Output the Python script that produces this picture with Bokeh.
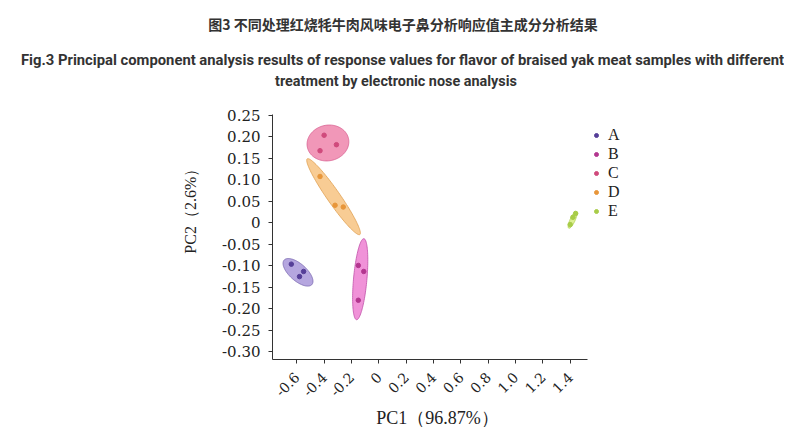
import numpy as np
from bokeh.plotting import figure
from bokeh.models import Legend, LegendItem, FixedTicker, Range1d, Label, LinearAxis
from bokeh.embed import file_html
from bokeh.resources import INLINE

# ---------------- data ----------------
groups = ["A", "B", "C", "D", "E"]

A_x = [-0.64, -0.55, -0.58]
A_y = [-0.096, -0.113, -0.125]
B_x = [-0.15, -0.11, -0.15]
B_y = [-0.099, -0.113, -0.180]
C_x = [-0.40, -0.31, -0.43]
C_y = [0.204, 0.182, 0.168]
D_x = [-0.43, -0.32, -0.26]
D_y = [0.108, 0.041, 0.037]
E_x = [1.44, 1.42, 1.40]
E_y = [0.022, 0.013, -0.004]

# confidence ellipses: centre and two conjugate semi-axis vectors (data units)
ell_cx = [-0.591, -0.136, -0.372, -0.331, 1.418]
ell_cy = [-0.115, -0.131, 0.186, 0.061, 0.007]
ell_ux = [0.1015, 0.0267, 0.1503, 0.1924, 0.0282]
ell_uy = [-0.0285, 0.0943, 0.0102, -0.0881, 0.0194]
ell_vx = [0.0411, 0.0488, -0.0271, 0.0391, 0.0166]
ell_vy = [0.0148, -0.0014, 0.0405, 0.0086, -0.0024]

# axis extents (data units)
x_axis_span = (-0.7776, 1.5267)
y_axis_span = (-0.3179, 0.2523)

x_ticks = [-0.6, -0.4, -0.2, 0.0, 0.2, 0.4, 0.6, 0.8, 1.0, 1.2, 1.4]
x_tick_labels = ["-0.6", "-0.4", "-0.2", "0", "0.2", "0.4", "0.6", "0.8", "1.0", "1.2", "1.4"]
y_ticks = [0.25, 0.20, 0.15, 0.10, 0.05, 0.0, -0.05, -0.10, -0.15, -0.20, -0.25, -0.30]
y_tick_labels = ["0.25", "0.20", "0.15", "0.10", "0.05", "0", "-0.05", "-0.10", "-0.15",
                 "-0.20", "-0.25", "-0.30"]

title_cn = "图3 不同处理红烧牦牛肉风味电子鼻分析响应值主成分分析结果"
title_en1 = "Fig.3 Principal component analysis results of response values for flavor of braised yak meat samples with different"
title_en2 = "treatment by electronic nose analysis"
x_label = "PC1（96.87%）"
y_label = "PC2（2.6%）"

# ---------------- styles ----------------
fill_colors = ["#ad9cdb", "#ee86d4", "#f08cb0", "#f7c788", "#d9ee88"]
edge_colors = ["#7a68b0", "#c050a8", "#d86090", "#e0a050", "#b0d050"]
dot_colors = ["#553e98", "#b3368f", "#d04a7c", "#e8963a", "#a8cc48"]

xs_all = [A_x, B_x, C_x, D_x, E_x]
ys_all = [A_y, B_y, C_y, D_y, E_y]

W, H = 784, 433
p = figure(width=W, height=H,
           x_range=Range1d(-2.7674, 2.9678), y_range=Range1d(-0.49011, 0.51757),
           output_backend="svg", toolbar_location=None,
           x_axis_location=None, y_axis_location=None, min_border=0)
p.grid.visible = False
p.outline_line_color = None
p.background_fill_color = "white"
p.border_fill_color = "white"

t = np.linspace(0, 2 * np.pi, 120)
ell_xs = [list(cx + ux * np.cos(t) + vx * np.sin(t))
          for cx, ux, vx in zip(ell_cx, ell_ux, ell_vx)]
ell_ys = [list(cy + uy * np.cos(t) + vy * np.sin(t))
          for cy, uy, vy in zip(ell_cy, ell_uy, ell_vy)]
p.patches(ell_xs, ell_ys, fill_color=fill_colors, fill_alpha=0.9,
          line_color=edge_colors, line_width=0.8)

items = []
for g, gx, gy, c in zip(groups, xs_all, ys_all, dot_colors):
    r = p.scatter(gx, gy, marker="circle", size=4.5, fill_color=c, line_color=c)
    items.append(LegendItem(label=g, renderers=[r]))

legend = Legend(items=items, location=(591, 213), padding=0, margin=0,
                glyph_width=10, glyph_height=16, label_height=16, spacing=1,
                label_standoff=7, background_fill_alpha=0, border_line_color=None,
                label_text_font="Liberation Serif", label_text_font_size="16px",
                label_text_color="#222222")
p.add_layout(legend)

# axes drawn at fixed positions inside the canvas
yaxis = LinearAxis(fixed_location=x_axis_span[0], bounds=y_axis_span,
                   ticker=FixedTicker(ticks=y_ticks),
                   major_label_overrides=dict(zip(y_ticks, y_tick_labels)))
xaxis = LinearAxis(fixed_location=y_axis_span[0], bounds=x_axis_span,
                   ticker=FixedTicker(ticks=x_ticks),
                   major_label_overrides=dict(zip(x_ticks, x_tick_labels)))
for ax in (xaxis, yaxis):
    ax.axis_line_color = "#333333"
    ax.major_tick_line_color = "#333333"
    ax.minor_tick_line_color = None
    ax.major_tick_in = 0
    ax.major_tick_out = 4
    ax.major_label_text_color = "#222222"
    ax.major_label_text_font = "DejaVu Serif"
xaxis.major_label_orientation = np.pi / 4
xaxis.major_label_text_font_size = "14px"
xaxis.major_label_standoff = 11
yaxis.major_label_text_font_size = "15px"
yaxis.major_label_standoff = 8
p.add_layout(yaxis, "left")
p.add_layout(xaxis, "below")

# axis titles
p.add_layout(Label(x=190, y=H - 206.7, x_units="screen", y_units="screen", text=y_label,
                   angle=np.pi / 2, text_align="center", text_baseline="middle",
                   text_font="Liberation Serif", text_font_size="16px",
                   text_color="#222222"))
p.add_layout(Label(x=437, y=H - 417.7, x_units="screen", y_units="screen", text=x_label,
                   text_align="center", text_baseline="middle",
                   text_font="Liberation Serif", text_font_size="18px",
                   text_color="#222222"))

# titles
p.add_layout(Label(x=402.5, y=H - 23.3, x_units="screen", y_units="screen", text=title_cn,
                   text_align="center", text_baseline="middle",
                   text_font="Noto Sans CJK SC", text_font_style="bold",
                   text_font_size="14px", text_color="#333333"))
p.add_layout(Label(x=402, y=H - 59, x_units="screen", y_units="screen", text=title_en1,
                   text_align="center", text_baseline="middle",
                   text_font="Roboto", text_font_style="bold",
                   text_font_size="14.8px", text_color="#333333"))
p.add_layout(Label(x=395.5, y=H - 80.5, x_units="screen", y_units="screen", text=title_en2,
                   text_align="center", text_baseline="middle",
                   text_font="Roboto", text_font_style="bold",
                   text_font_size="14.4px", text_color="#333333"))

open("out.html", "w").write(file_html(p, INLINE))
